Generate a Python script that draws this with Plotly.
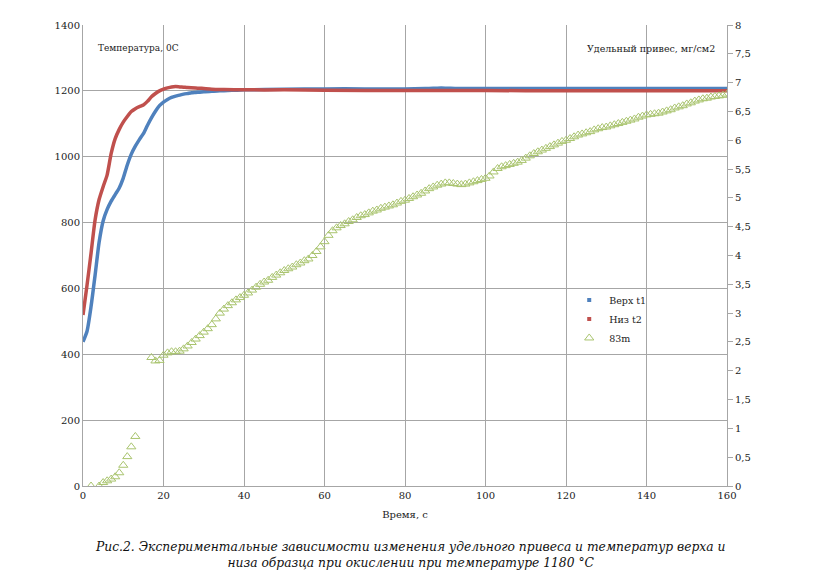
import plotly.graph_objects as go

# temperature curves, deg C
t_top = [0, 1, 2, 3, 4, 5, 6, 7, 8, 9, 10, 11, 12, 13, 14, 15, 16, 17, 18, 19, 20,
         21, 22, 23, 24, 25, 26, 27, 28, 29, 30, 32, 34, 36, 38, 40, 50, 60, 70, 80,
         85, 87, 89, 91, 93, 95, 100, 110, 120, 130, 140, 150, 160]
temp_top = [438, 470, 545, 640, 740, 805, 840, 865, 885, 905, 935, 975, 1008, 1032, 1052,
            1070, 1095, 1118, 1138, 1155, 1166, 1174, 1180, 1184, 1187, 1190, 1192, 1194,
            1195, 1196, 1197, 1199, 1200, 1201, 1202, 1203, 1205, 1206, 1206, 1206,
            1207, 1208, 1209, 1208, 1207, 1207, 1207, 1207, 1207, 1207, 1207, 1207, 1207]

t_bot = [0, 1, 2, 3, 4, 5, 6, 7, 8, 9, 10, 11, 12, 13, 14, 15, 16, 17, 18, 19, 20,
         21, 22, 23, 24, 25, 26, 28, 30, 32, 35, 40, 50, 60, 80, 100, 120, 140, 160]
temp_bot = [519, 610, 707, 808, 870, 909, 945, 1010, 1055, 1083, 1105, 1122, 1137, 1146,
            1152, 1157, 1168, 1182, 1192, 1200, 1205, 1209, 1212, 1213, 1212, 1211, 1210,
            1209, 1207, 1205, 1204, 1203, 1203, 1202, 1201, 1201, 1200, 1200, 1200]

# specific mass gain, mg/cm2
t_gain1 = [2, 4, 5, 6, 7, 8, 9, 10, 11, 12, 13]
gain1 = [0.0, 0.0, 0.06, 0.09, 0.12, 0.16, 0.23, 0.36, 0.51, 0.68, 0.86]
t_gain2 = list(range(17, 161))
gain2 = [2.23, 2.17, 2.18, 2.27, 2.31, 2.33, 2.33, 2.34, 2.38, 2.43, 2.49, 2.55, 2.61,
         2.67, 2.73, 2.80, 2.90, 3.00, 3.07, 3.13, 3.18, 3.23, 3.27, 3.31, 3.35, 3.40,
         3.45, 3.50, 3.54, 3.57, 3.62, 3.66, 3.70, 3.74, 3.77, 3.80, 3.84, 3.87, 3.91,
         3.94, 4.00, 4.07, 4.15, 4.24, 4.35, 4.43, 4.48, 4.52, 4.55, 4.59, 4.62, 4.66,
         4.69, 4.71, 4.74, 4.77, 4.79, 4.82, 4.84, 4.86, 4.88, 4.91, 4.94, 4.96, 4.99,
         5.02, 5.05, 5.08, 5.12, 5.16, 5.19, 5.22, 5.24, 5.26, 5.26, 5.25, 5.24, 5.23,
         5.24, 5.26, 5.28, 5.30, 5.32, 5.34, 5.38, 5.45, 5.51, 5.54, 5.56, 5.58, 5.60,
         5.62, 5.65, 5.69, 5.73, 5.77, 5.80, 5.83, 5.86, 5.89, 5.92, 5.95, 5.98, 6.00,
         6.03, 6.06, 6.09, 6.11, 6.13, 6.15, 6.18, 6.20, 6.22, 6.23, 6.25, 6.27, 6.29,
         6.31, 6.33, 6.35, 6.37, 6.40, 6.42, 6.44, 6.45, 6.46, 6.47, 6.49, 6.51, 6.53,
         6.56, 6.58, 6.60, 6.63, 6.65, 6.68, 6.70, 6.72, 6.73, 6.75, 6.76, 6.77, 6.78,
         6.80]

left_ticks = [0, 200, 400, 600, 800, 1000, 1200, 1400]
right_ticks = [0, 0.5, 1, 1.5, 2, 2.5, 3, 3.5, 4, 4.5, 5, 5.5, 6, 6.5, 7, 7.5, 8]
right_labels = ["0", "0,5", "1", "1,5", "2", "2,5", "3", "3,5", "4", "4,5", "5", "5,5",
                "6", "6,5", "7", "7,5", "8"]

blue = "#4F81BD"
red = "#C0504D"
green = "#A9C46E"
serif = "DejaVu Serif"

fig = go.Figure()
fig.add_trace(go.Scatter(x=t_top, y=temp_top, mode="lines",
                         line=dict(color=blue, width=3.5, shape="spline", smoothing=0.6),
                         showlegend=False))
fig.add_trace(go.Scatter(x=t_bot, y=temp_bot, mode="lines",
                         line=dict(color=red, width=3.5, shape="spline", smoothing=0.6),
                         showlegend=False))
fig.add_trace(go.Scatter(x=t_gain1 + t_gain2, y=gain1 + gain2, yaxis="y2", mode="markers",
                         marker=dict(symbol="triangle-up-open", size=8, color=green,
                                     line=dict(width=1)),
                         showlegend=False))
# legend entries
fig.add_trace(go.Scatter(x=[None], y=[None], mode="markers", name="Верх t1",
                         marker=dict(symbol="square", size=4, color=blue)))
fig.add_trace(go.Scatter(x=[None], y=[None], mode="markers", name="Низ t2",
                         marker=dict(symbol="square", size=4, color=red)))
fig.add_trace(go.Scatter(x=[None], y=[None], mode="markers", name="83m",
                         marker=dict(symbol="triangle-up-open", size=8, color=green)))

fig.update_layout(
    width=817, height=586,
    margin=dict(l=75, r=98, t=17, b=108),
    paper_bgcolor="white", plot_bgcolor="white",
    font=dict(family=serif, size=10, color="#222"),
    xaxis=dict(range=[0, 160], tickvals=[0, 20, 40, 60, 80, 100, 120, 140, 160],
               showgrid=True, gridcolor="#a6a6a6", gridwidth=1,
               showline=True, linecolor="#a6a6a6", zeroline=False,
               title=dict(text="Время, с", font=dict(family=serif, size=10), standoff=10)),
    yaxis=dict(range=[0, 1400], tickvals=left_ticks, ticktext=[str(v) for v in left_ticks],
               showgrid=True, gridcolor="#a6a6a6", gridwidth=1,
               showline=True, linecolor="#a6a6a6", zeroline=False, ticks=""),
    yaxis2=dict(range=[0, 8], overlaying="y", side="right", tickvals=right_ticks,
                ticktext=right_labels, showgrid=False, showline=True,
                linecolor="#a6a6a6", ticks="outside", ticklen=5, tickcolor="#a6a6a6",
                zeroline=False),
    legend=dict(x=0.755, y=0.435, xanchor="left", yanchor="top", bgcolor="rgba(0,0,0,0)",
                font=dict(family=serif, size=9.5), itemwidth=30, tracegroupgap=0),
    annotations=[
        dict(text="Температура, 0С", xref="paper", yref="paper", x=0.02, y=0.95,
             xanchor="left", yanchor="middle", showarrow=False,
             font=dict(family=serif, size=9)),
        dict(text="Удельный привес, мг/см2", xref="paper", yref="paper", x=0.985, y=0.95,
             xanchor="right", yanchor="middle", showarrow=False,
             font=dict(family=serif, size=9.5)),
        dict(text="<i>Рис.2. Экспериментальные зависимости изменения удельного привеса и "
                  "температур верха и<br>низа образца при окислении при температуре 1180 °С</i>",
             xref="paper", yref="paper", x=0.508, y=-0.112, xanchor="center", yanchor="top",
             showarrow=False, align="center",
             font=dict(family=serif, size=12.3, color="#111")),
    ],
)

fig.write_html("out.html")
